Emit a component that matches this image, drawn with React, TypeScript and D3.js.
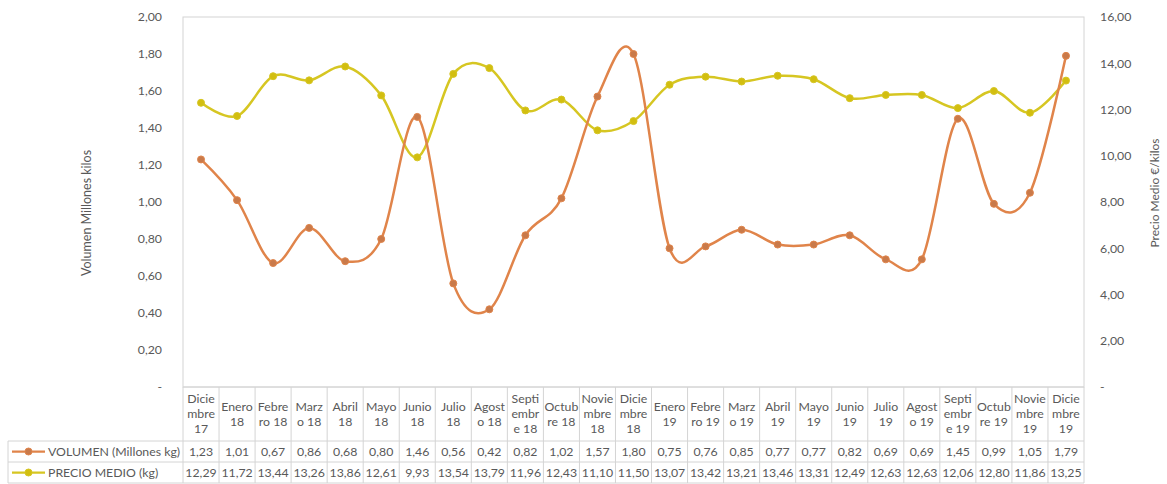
import React from "react";
import * as d3 from "d3";

const categories = [
  "Dicie\nmbre\n17", "Enero\n18", "Febre\nro 18", "Marz\no 18", "Abril\n18", "Mayo\n18",
  "Junio\n18", "Julio\n18", "Agost\no 18", "Septi\nembr\ne 18", "Octub\nre 18", "Novie\nmbre\n18",
  "Dicie\nmbre\n18", "Enero\n19", "Febre\nro 19", "Marz\no 19", "Abril\n19", "Mayo\n19",
  "Junio\n19", "Julio\n19", "Agost\no 19", "Septi\nembr\ne 19", "Octub\nre 19", "Novie\nmbre\n19",
  "Dicie\nmbre\n19",
];
const volumen = [1.23, 1.01, 0.67, 0.86, 0.68, 0.80, 1.46, 0.56, 0.42, 0.82, 1.02, 1.57, 1.80, 0.75, 0.76, 0.85, 0.77, 0.77, 0.82, 0.69, 0.69, 1.45, 0.99, 1.05, 1.79];
const precio = [12.29, 11.72, 13.44, 13.26, 13.86, 12.61, 9.93, 13.54, 13.79, 11.96, 12.43, 11.10, 11.50, 13.07, 13.42, 13.21, 13.46, 13.31, 12.49, 12.63, 12.63, 12.06, 12.80, 11.86, 13.25];
const leftTicks = [0, 0.2, 0.4, 0.6, 0.8, 1.0, 1.2, 1.4, 1.6, 1.8, 2.0];
const rightTicks = [0, 2, 4, 6, 8, 10, 12, 14, 16];
const seriesNames = ["VOLUMEN (Millones kg)", "PRECIO MEDIO (kg)"];

const W = 1167, H = 484;
const L = 183, R = 1084, T = 17, B = 387;
const headerBottom = 441, row1Bottom = 462, row2Bottom = 483, tableLeft = 8;
const FONT = "Lato, 'Open Sans', sans-serif";
const TXT = "#595959";
const GRID = "#d4d4d4";
const ORANGE = "#E0844A", ORANGE_M = "#C97A4A";
const YELLOW = "#D6C622", YELLOW_M = "#D2BE10";
const FS = 12.3;

const fmt = (v: number) => v.toFixed(2).replace(".", ",");

export default function App() {
  const x = d3.scaleBand<number>().domain(d3.range(categories.length)).range([L, R]).padding(0);
  const yL = d3.scaleLinear().domain([0, 2]).range([B, T]);
  const yR = d3.scaleLinear().domain([0, 16]).range([B, T]);
  const cx = (i: number) => (x(i) as number) + x.bandwidth() / 2;
  const lineL = d3.line<number>().x((_, i) => cx(i)).y((d) => yL(d)).curve(d3.curveCatmullRom.alpha(0));
  const lineR = d3.line<number>().x((_, i) => cx(i)).y((d) => yR(d)).curve(d3.curveCatmullRom.alpha(0));
  const bounds = d3.range(categories.length + 1).map((i) => L + i * x.bandwidth());

  return (
    <svg width={W} height={H} style={{ position: "absolute", left: 0, top: 0 }} fontFamily={FONT}>
      <rect x={0} y={0} width={W} height={H} fill="#fff" />
      <rect x={L} y={T} width={R - L} height={B - T} fill="none" stroke={GRID} strokeWidth={1} />
      {leftTicks.map((t) => (
        <text key={"l" + t} x={162} y={yL(t)} dy="0.35em" textAnchor="end" fontSize={FS} fill={TXT}>
          {t === 0 ? "-" : fmt(t)}
        </text>
      ))}
      {rightTicks.map((t) => (
        <text key={"r" + t} x={1100} y={yR(t)} dy="0.35em" textAnchor="start" fontSize={FS} fill={TXT}>
          {t === 0 ? "-" : fmt(t)}
        </text>
      ))}
      <text transform={`translate(91,${213}) rotate(-90)`} textAnchor="middle" fontSize={12.5} fill={TXT}>
        Volumen Millones kilos
      </text>
      <text transform={`translate(1159,${193}) rotate(-90)`} textAnchor="middle" fontSize={12} fill={TXT}>
        Precio Medio €/kilos
      </text>
      <line x1={L} x2={R} y1={B} y2={B} stroke={GRID} />
      {[headerBottom, row1Bottom, row2Bottom].map((yy) => (
        <line key={"h" + yy} x1={tableLeft} x2={R} y1={yy} y2={yy} stroke={GRID} />
      ))}
      <line x1={tableLeft} x2={tableLeft} y1={headerBottom} y2={row2Bottom} stroke={GRID} />
      {bounds.map((bx, i) => (
        <line key={"v" + i} x1={bx} x2={bx} y1={B} y2={row2Bottom} stroke={GRID} />
      ))}
      {categories.map((c, i) => {
        const lines = c.split("\n");
        const lh = 15;
        const mid = (B + headerBottom) / 2;
        const y0 = mid - ((lines.length - 1) * lh) / 2;
        return (
          <text key={"c" + i} x={cx(i)} textAnchor="middle" fontSize={FS} fill={TXT}>
            {lines.map((ln, j) => (
              <tspan key={j} x={cx(i)} y={y0 + j * lh} dy="0.35em">{ln}</tspan>
            ))}
          </text>
        );
      })}
      {volumen.map((v, i) => (
        <text key={"vv" + i} x={cx(i)} y={(headerBottom + row1Bottom) / 2} dy="0.35em" textAnchor="middle" fontSize={FS} fill={TXT}>
          {fmt(v)}
        </text>
      ))}
      {precio.map((v, i) => (
        <text key={"pv" + i} x={cx(i)} y={(row1Bottom + row2Bottom) / 2} dy="0.35em" textAnchor="middle" fontSize={FS} fill={TXT}>
          {fmt(v)}
        </text>
      ))}
      {[ [ORANGE, ORANGE_M, (headerBottom + row1Bottom) / 2], [YELLOW, YELLOW_M, (row1Bottom + row2Bottom) / 2] ].map(([c, m, yy], k) => (
        <g key={"lg" + k}>
          <line x1={12} x2={45} y1={yy as number} y2={yy as number} stroke={c as string} strokeWidth={2.25} />
          <circle cx={28.5} cy={yy as number} r={3.5} fill={m as string} stroke={c as string} strokeWidth={1} />
          <text x={48} y={yy as number} dy="0.35em" fontSize={FS} fill={TXT}>{seriesNames[k]}</text>
        </g>
      ))}
      <path d={lineR(precio) as string} fill="none" stroke={YELLOW} strokeWidth={2.5} />
      {precio.map((v, i) => (
        <circle key={"pc" + i} cx={cx(i)} cy={yR(v)} r={3.5} fill={YELLOW_M} stroke={YELLOW} strokeWidth={1} />
      ))}
      <path d={lineL(volumen) as string} fill="none" stroke={ORANGE} strokeWidth={2.5} />
      {volumen.map((v, i) => (
        <circle key={"vc" + i} cx={cx(i)} cy={yL(v)} r={3.5} fill={ORANGE_M} stroke={ORANGE} strokeWidth={1} />
      ))}
    </svg>
  );
}
